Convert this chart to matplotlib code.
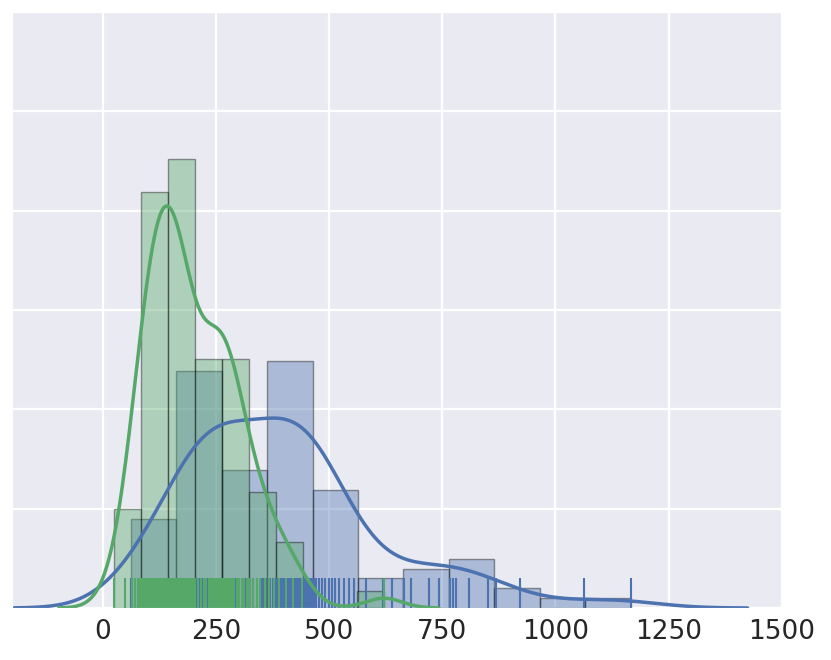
import numpy as np
import seaborn as sns
from matplotlib import pyplot as plt

# 00 - Values
blue_edges = [62, 162.4, 262.8, 363.2, 463.6, 564, 664.4, 764.8, 865.2, 965.6, 1066, 1166.4]
blue_heights = [0.00090, 0.00239, 0.00139, 0.00249, 0.00119, 0.00030, 0.00039, 0.00049, 0.00020, 0.00010, 0.00010]

green_edges = [25, 84.65, 144.3, 203.9, 263.6, 323.2, 382.9, 442.5, 502.2, 561.8, 621.5]
green_heights = [0.00100, 0.00419, 0.00452, 0.00251, 0.00251, 0.00117, 0.00066, 0, 0, 0.00017]

# observations, as read from the rug ticks (the kde lines are estimated from these)
blue_obs = [63, 72, 82, 98, 112, 125, 138, 150, 158,
            170, 178, 185, 191, 197, 202, 207, 211, 215, 219, 223, 227, 231, 235, 238, 241, 244, 247,
            250, 253, 255, 257, 259, 261,
            267, 273, 280, 287, 294, 301, 309, 317, 325, 333, 341, 349, 355, 361,
            369, 376, 382, 388, 393, 398, 402, 406, 410, 414, 418, 422, 426, 430, 433, 436, 439, 442,
            445, 448, 451, 454, 457, 460, 462,
            466, 472, 478, 485, 492, 499, 506, 514, 522, 532, 543, 555,
            582, 620, 640, 666, 681, 720, 742, 767, 773, 780, 808, 850, 868, 922, 1063, 1166]
green_obs = [25, 50, 64, 72, 78, 83,
             85, 87, 89, 91, 93, 95, 97, 99, 101, 103, 105, 107, 109, 111, 113, 116, 119, 122, 125,
             128, 131, 134, 137, 140, 143,
             145, 146, 147, 148, 149, 150, 151, 153, 155, 157, 159, 161, 163, 165, 167, 169, 171, 173,
             176, 179, 182, 185, 189, 193, 197, 200, 203,
             210, 217, 223, 229, 234, 238, 242, 246, 249, 252, 255, 257, 259, 261, 263,
             265, 267, 269, 271, 274, 277, 280, 283, 287, 291, 296, 301, 307, 313, 320,
             326, 332, 340, 348, 358, 368, 378,
             390, 405, 420, 440, 621]

x_ticks = [0, 250, 500, 750, 1000, 1250, 1500]

blue = '#4C72B0'
green = '#55A868'

# 01 - Style
sns.set_style('darkgrid')
plt.rcParams['font.family'] = ['DejaVu Sans']

fig = plt.figure(figsize=(8.31, 6.6), dpi=100)
ax = fig.add_axes([0.0144, 0.0788, 0.9266, 0.903])

# 02 - Blue series: hist, kde, rug
ax.bar(blue_edges[:-1], blue_heights, width=np.diff(blue_edges), align='edge',
       color=blue, alpha=0.4, edgecolor='black', linewidth=1)
sns.kdeplot(x=blue_obs, ax=ax, color=blue, lw=2.5, bw_method='scott', cut=3)
ax.vlines(blue_obs, 0, 0.05, transform=ax.get_xaxis_transform(), color=blue, lw=1.5)

# 03 - Green series: hist, kde, rug
ax.bar(green_edges[:-1], green_heights, width=np.diff(green_edges), align='edge',
       color=green, alpha=0.4, edgecolor='black', linewidth=1)
sns.kdeplot(x=green_obs, ax=ax, color=green, lw=2.5, bw_method='scott', cut=3)
ax.vlines(green_obs, 0, 0.05, transform=ax.get_xaxis_transform(), color=green, lw=1.5)

ax.set_xlim(-200, 1500)
ax.set_ylim(0, 0.006)
ax.set_xticks(x_ticks)
ax.set_yticks(np.arange(0, 0.0061, 0.001))
ax.set_yticklabels([])
ax.set_ylabel('')
ax.tick_params(axis='x', labelsize=19, length=0, pad=8)
ax.tick_params(axis='y', length=0)
ax.grid(color='white', linewidth=1.6)

fig.savefig('out.png', dpi=100)
